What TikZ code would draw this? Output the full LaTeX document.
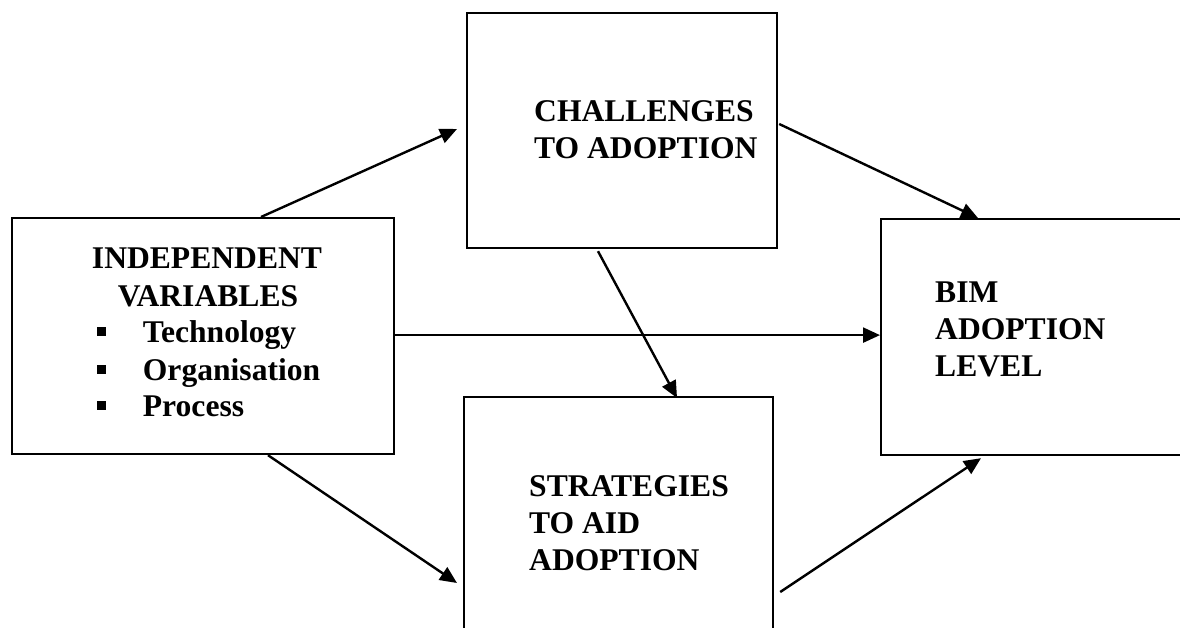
\documentclass[tikz,border=0pt]{standalone}
\usepackage{fontspec}
\setmainfont{Liberation Serif}
\usetikzlibrary{arrows.meta}

\tikzset{
  box/.style={draw=black, line width=2.2pt, rectangle, inner sep=0pt, anchor=north west},
  label/.style={inner sep=0pt, font=\bfseries\fontsize{31.6}{37}\selectfont},
  bulletsq/.style={fill=black, rectangle, inner sep=0pt, minimum size=9pt},
  link/.style={line width=2.4pt, -{Triangle[length=17pt,width=15pt]}},
}

\begin{document}
\begin{tikzpicture}[x=1pt, y=-1pt]
  \useasboundingbox (0,0) rectangle (1180,628);
  \fill[white] (0,0) rectangle (1180,628);
  \clip (0,0) rectangle (1180,628);

  % boxes
  \node[box, minimum width=382pt, minimum height=236pt] (ind)   at (11,217)  {};
  \node[box, minimum width=310pt, minimum height=235pt] (chal)  at (466,12)  {};
  \node[box, minimum width=309pt, minimum height=260pt] (strat) at (463,396) {};
  \node[box, minimum width=330pt, minimum height=236pt] (bim)   at (880,218) {};

  % independent variables
  \node[label, anchor=base] (i1) at (207,268.3) {INDEPENDENT};
  \node[label, anchor=base] (i2) at (208,306)   {VARIABLES};
  \node[bulletsq] (b1) at (101.5,331.5) {};
  \node[bulletsq] (b2) at (101.5,369)   {};
  \node[bulletsq] (b3) at (101.5,405.5) {};
  \node[label, anchor=base west] (i3) at (142.7,342.7) {Technology};
  \node[label, anchor=base west] (i4) at (142.7,380)   {Organisation};
  \node[label, anchor=base west] (i5) at (142.7,416.7) {Process};

  % challenges
  \node[label, anchor=base west] (c1) at (534,121.7) {CHALLENGES};
  \node[label, anchor=base west] (c2) at (534,158.3) {TO ADOPTION};

  % strategies
  \node[label, anchor=base west] (s1) at (529,496.7) {STRATEGIES};
  \node[label, anchor=base west] (s2) at (529,533.3) {TO AID};
  \node[label, anchor=base west] (s3) at (529,570.7) {ADOPTION};

  % adoption level
  \node[label, anchor=base west] (l1) at (935,302.7) {BIM};
  \node[label, anchor=base west] (l2) at (935,339.3) {ADOPTION};
  \node[label, anchor=base west] (l3) at (935,376.7) {LEVEL};

  % connectors
  \draw[link] ([xshift=250pt]ind.north west) -- ([xshift=-9pt,yshift=-117pt]chal.north west);
  \draw[link] ([xshift=1pt,yshift=-112pt]chal.north east) -- ([xshift=98pt]bim.north west);
  \draw[link] ([yshift=1pt]ind.east) -- ([yshift=1pt]ind.east -| bim.west);
  \draw[link] ([xshift=132pt,yshift=-2pt]chal.south west) -- ([xshift=214pt,yshift=-2pt]strat.north west);
  \draw[link] ([xshift=257pt]ind.south west) -- ([xshift=-6pt,yshift=-187pt]strat.north west);
  \draw[link] ([xshift=6pt,yshift=-196pt]strat.north east) -- ([xshift=101pt,yshift=-2pt]bim.south west);
\end{tikzpicture}
\end{document}
